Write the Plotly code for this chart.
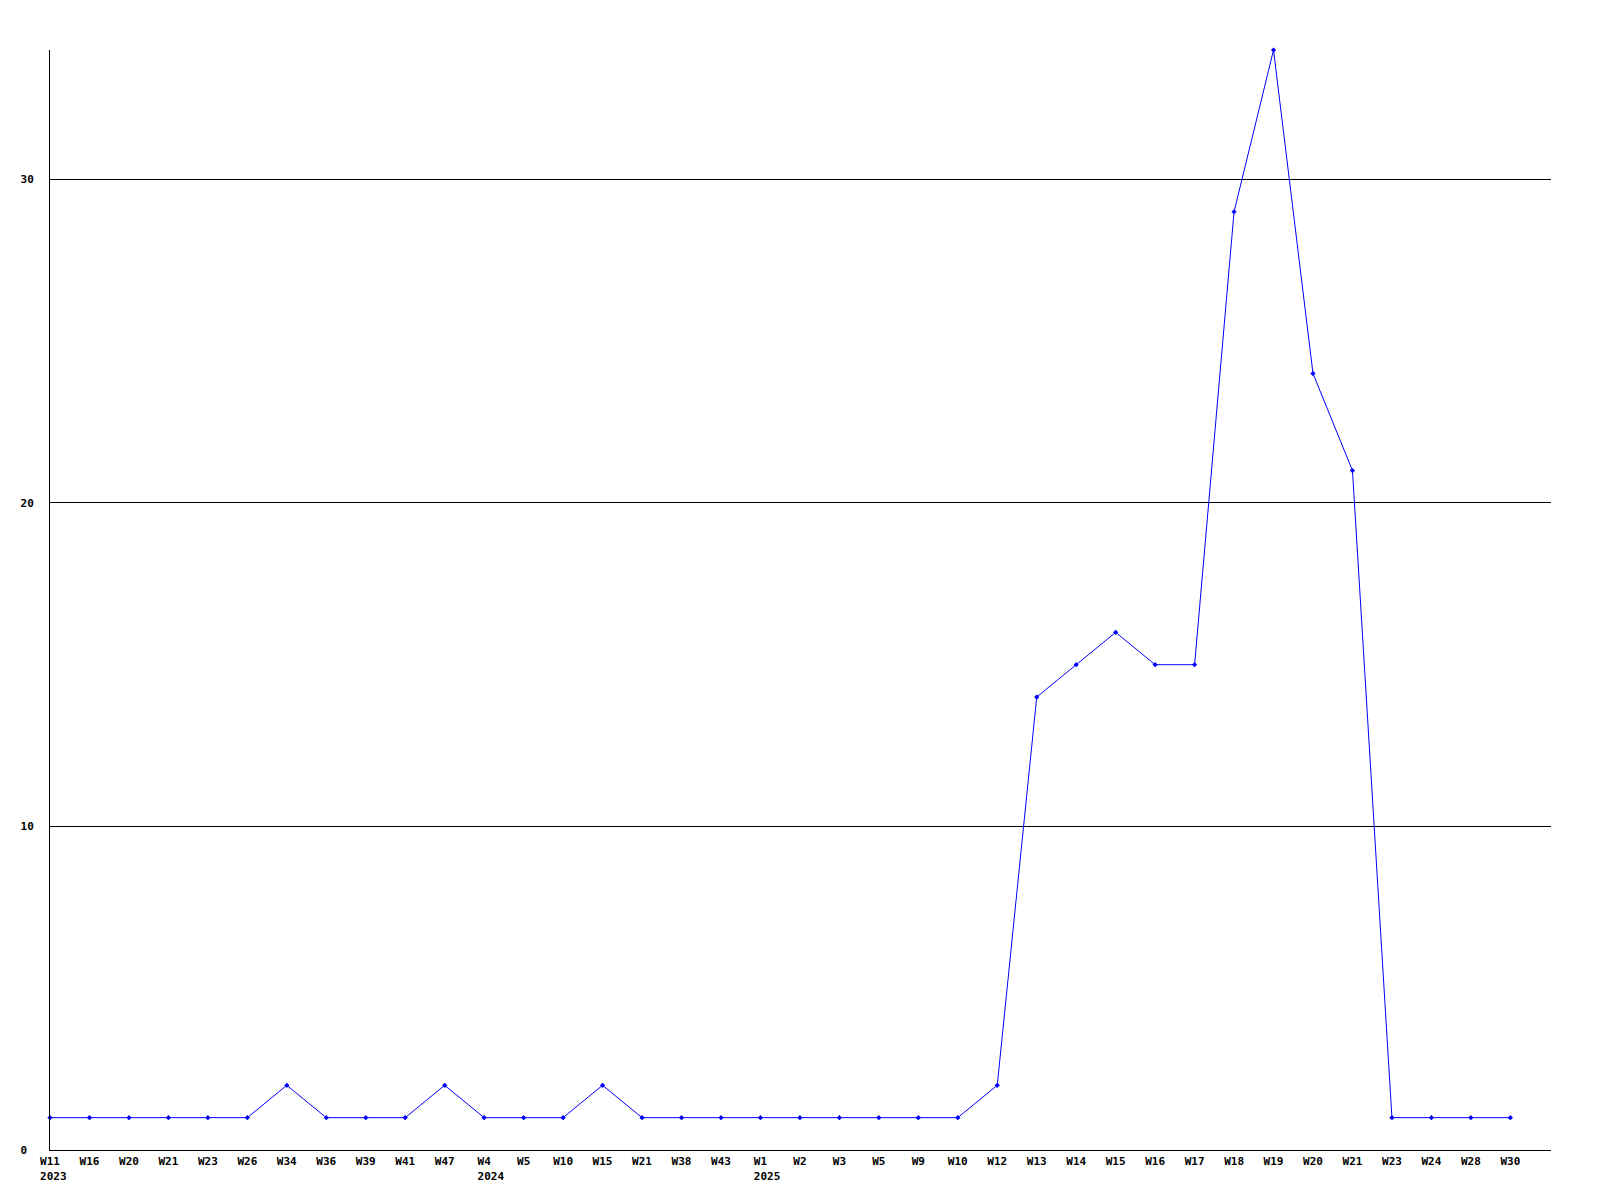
import plotly.graph_objects as go

weeks = ["W11", "W16", "W20", "W21", "W23", "W26", "W34", "W36", "W39", "W41", "W47",
         "W4", "W5", "W10", "W15", "W21", "W38", "W43",
         "W1", "W2", "W3", "W5", "W9", "W10", "W12", "W13", "W14", "W15", "W16", "W17",
         "W18", "W19", "W20", "W21", "W23", "W24", "W28", "W30"]
years = {0: "2023", 11: "2024", 18: "2025"}
values = [1, 1, 1, 1, 1, 1, 2, 1, 1, 1, 2,
          1, 1, 1, 2, 1, 1, 1,
          1, 1, 1, 1, 1, 1, 2, 14, 15, 16, 15, 15,
          29, 34, 24, 21, 1, 1, 1, 1]
y_ticks = [0, 10, 20, 30]

x = list(range(len(weeks)))


def tick_label(i, w):
    if i not in years:
        return w
    yr = years[i]
    # left-align the year under the week label (monospace font)
    pad = len(yr) - len(w)
    return w + "<br>" + "\u00a0" * pad + yr


ticktext = [tick_label(i, w) for i, w in enumerate(weeks)]

font = dict(family="DejaVu Sans Mono", size=11, color="black", weight="bold")

fig = go.Figure()
fig.add_trace(go.Scatter(
    x=x, y=values, mode="lines+markers",
    line=dict(color="#0000ff", width=1),
    marker=dict(color="#0000ff", size=4, symbol="diamond"),
    showlegend=False, cliponaxis=False,
))

fig.update_layout(
    width=1600, height=1200,
    margin=dict(l=42, r=57, t=42, b=58),
    paper_bgcolor="white", plot_bgcolor="white",
    font=font,
)
fig.update_xaxes(
    range=[0, 38.03], tickmode="array", tickvals=x, ticktext=ticktext,
    tickangle=0, showgrid=False, zeroline=False,
    showline=True, linecolor="black", linewidth=1,
    ticks="", ticklabelstandoff=1, tickfont=font,
)
fig.update_yaxes(
    range=[0, 34], tickmode="array", tickvals=y_ticks,
    ticktext=["0\u00a0", "10", "20", "30"],
    showgrid=True, gridcolor="black", gridwidth=1, zeroline=False,
    showline=True, linecolor="black", linewidth=1,
    ticks="", ticklabelstandoff=13, tickfont=font,
)

fig.write_html("out.html")
